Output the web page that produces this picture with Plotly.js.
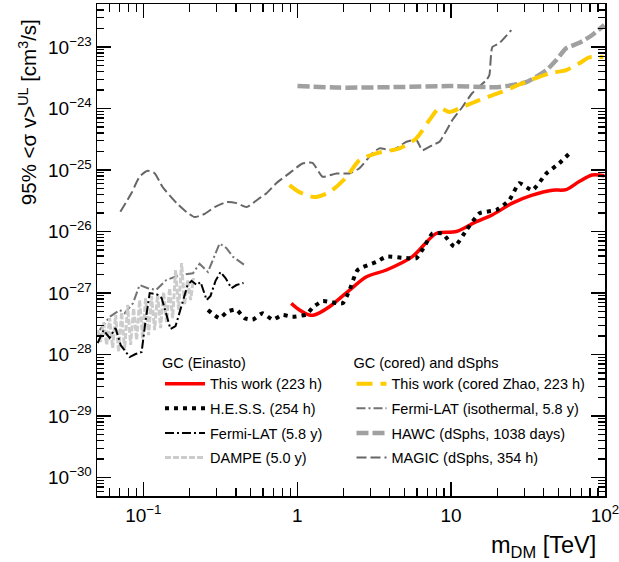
<!DOCTYPE html>
<html>
<head>
<meta charset="utf-8">
<script src="https://cdn.plot.ly/plotly-3.0.1.min.js"></script>
<style>html,body{margin:0;padding:0;background:#fff;}#chart{width:619px;height:562px;}</style>
</head>
<body>
<div id="chart"></div>
<script>
// ---- Data ----
// GC (Einasto)
const thisWorkX = [0.914, 1.035, 1.2, 1.29, 1.62, 2.19, 2.82, 3.8, 5.6, 8.0, 10.8, 14.6, 18.5, 25, 33.7, 45.5, 56, 68, 82.6, 99];
const thisWorkY = [6.8e-28, 5.3e-28, 4.4e-28, 4.4e-28, 6.0e-28, 1.12e-27, 1.84e-27, 2.37e-27, 3.9e-27, 9.3e-27, 1.0e-26, 1.45e-26, 1.86e-26, 2.9e-26, 3.9e-26, 4.7e-26, 4.8e-26, 6.5e-26, 8.3e-26, 8.1e-26];

const hessX = [0.263, 0.313, 0.352, 0.402, 0.455, 0.513, 0.596, 0.692, 0.803, 0.932, 1.15, 1.26, 1.46, 1.97, 2.19, 2.47, 3.27, 3.8, 5.13, 5.95, 6.7, 7.56, 8.8, 10.5, 12.6, 15.3, 19.7, 23.9, 27.8, 33.7, 41.6, 50.5, 60.4];
const hessY = [5.3e-28, 3.9e-28, 5.0e-28, 5.4e-28, 3.9e-28, 3.7e-28, 4.7e-28, 3.7e-28, 4.4e-28, 4.1e-28, 4.5e-28, 5.8e-28, 7.4e-28, 6.8e-28, 1.12e-27, 2.37e-27, 3.2e-27, 3.9e-27, 3.7e-27, 3.7e-27, 5.7e-27, 9.3e-27, 9.3e-27, 5.7e-27, 1.06e-26, 1.98e-26, 2.24e-26, 3.25e-26, 6.1e-26, 4.7e-26, 8.8e-26, 1.29e-25, 2.0e-25];

const fermiGcX = [0.0505, 0.0552, 0.0604, 0.066, 0.0713, 0.0815, 0.0891, 0.0975, 0.1035, 0.110, 0.122, 0.1315, 0.1416, 0.150, 0.162, 0.175, 0.194, 0.206, 0.222, 0.2355, 0.258, 0.2735, 0.2945, 0.3177, 0.342, 0.374, 0.403, 0.448];
const fermiGcY = [1.54e-28, 2.5e-28, 1.86e-28, 2.7e-28, 1.42e-28, 9.1e-29, 1.02e-28, 1.1e-28, 3.6e-28, 1.0e-27, 9.6e-28, 8.3e-28, 4.4e-28, 2.6e-28, 2.9e-28, 5.7e-28, 1.35e-27, 1.58e-27, 1.35e-27, 1.51e-27, 7.7e-28, 9.0e-28, 1.58e-27, 2.2e-27, 1.75e-27, 1.2e-27, 1.35e-27, 1.46e-27];

const dampeX = [0.05047, 0.05281, 0.05524, 0.05777, 0.06042, 0.06319, 0.0661, 0.0691, 0.0723, 0.0756, 0.0791, 0.0827, 0.0865, 0.0905, 0.0946, 0.0990, 0.1035, 0.1082, 0.1132, 0.1184, 0.1238, 0.1295, 0.1354, 0.1416, 0.1482, 0.155, 0.162, 0.1695, 0.1773, 0.1854, 0.1939, 0.2028, 0.2121];
const dampeY = [2.5e-28, 1.6e-28, 3.37e-28, 1.43e-28, 3.9e-28, 1.28e-28, 4.4e-28, 1.1e-28, 4.9e-28, 1.18e-28, 6.4e-28, 1.43e-28, 5.7e-28, 1.72e-28, 7.7e-28, 1.85e-28, 8.3e-28, 2.07e-28, 8.9e-28, 2.5e-28, 9.6e-28, 2.7e-28, 1.04e-27, 3.37e-28, 1.2e-27, 3.9e-28, 2.37e-27, 5.3e-28, 3.08e-27, 6.4e-28, 1.63e-27, 7.7e-28, 1.75e-27];

// GC (cored) and dSphs
const coredX = [0.891, 1.035, 1.296, 1.62, 2.09, 2.54, 3.26, 4.62, 5.93, 7.23, 8.40, 9.75, 11.84, 15.27, 21.5, 30.8, 43.5, 56.1, 68.1, 79.1, 97.5];
const coredY = [5.7e-26, 4.38e-26, 3.64e-26, 4.38e-26, 7.7e-26, 1.45e-25, 1.87e-25, 2.25e-25, 3.27e-25, 6.5e-25, 1.02e-24, 8.8e-25, 1.06e-24, 1.37e-24, 1.88e-24, 2.73e-24, 3.73e-24, 4.23e-24, 5.43e-24, 6.8e-24, 6.8e-24];

const fermiIsoX = [0.052, 0.0604, 0.0702, 0.0756, 0.0856, 0.0946, 0.107, 0.121, 0.141, 0.172, 0.21, 0.232, 0.263, 0.313, 0.346, 0.382, 0.455];
const fermiIsoY = [2.5e-28, 4.1e-28, 5.3e-28, 4.7e-28, 6.8e-28, 1.35e-27, 1.2e-27, 1.12e-27, 1.63e-27, 1.96e-27, 2.1e-27, 3.0e-27, 2.2e-27, 6.4e-27, 5.4e-27, 3.9e-27, 2.85e-27];

const hawcX = [1.004, 1.88, 4.62, 9.75, 20.6, 30.8, 41.6, 48.3, 56.1, 68.1, 82.7, 99];
const hawcY = [2.32e-24, 2.19e-24, 2.24e-24, 2.32e-24, 2.24e-24, 2.7e-24, 4.2e-24, 6.15e-24, 9.6e-24, 1.17e-23, 1.57e-23, 2.28e-23];

const magicX = [0.0709, 0.0836, 0.0946, 0.1066, 0.1184, 0.1334, 0.1645, 0.191, 0.2153, 0.25, 0.2904, 0.3475, 0.4035, 0.4686, 0.5692, 0.632, 0.7337, 0.891, 1.082, 1.257, 1.46, 1.80, 2.186, 2.54, 3.08, 3.42, 4.16, 5.13, 5.95, 6.51, 7.56, 8.40, 10.2, 11.84, 13.75, 16.95, 17.73, 18.54, 20.59, 24.64];
const magicY = [2.1e-26, 4.18e-26, 7.8e-26, 9.7e-26, 8.9e-26, 5.3e-26, 2.9e-26, 2.07e-26, 1.72e-26, 1.93e-26, 2.5e-26, 3.02e-26, 2.9e-26, 2.5e-26, 3.5e-26, 4.2e-26, 6.15e-26, 8.9e-26, 1.28e-25, 1.31e-25, 7.8e-26, 8.8e-26, 8.8e-26, 1.07e-25, 1.87e-25, 2.25e-25, 2.1e-25, 2.88e-25, 3.08e-25, 2.1e-25, 2.55e-25, 2.88e-25, 6.5e-25, 1.06e-24, 1.79e-24, 2.9e-24, 3.5e-24, 1.0e-23, 1.16e-23, 1.89e-23];

// Tick labels
const xTickVals = [0.1, 1, 10, 100];
const xTickText = ['10<sup>\u22121</sup>', '1', '10', '10<sup>2</sup>'];
const yTickVals = [1e-30, 1e-29, 1e-28, 1e-27, 1e-26, 1e-25, 1e-24, 1e-23];
const yTickText = ['10<sup>\u221230</sup>', '10<sup>\u221229</sup>', '10<sup>\u221228</sup>', '10<sup>\u221227</sup>', '10<sup>\u221226</sup>', '10<sup>\u221225</sup>', '10<sup>\u221224</sup>', '10<sup>\u221223</sup>'];

// Legend labels
const legendTitleLeft = 'GC (Einasto)';
const legendTitleRight = 'GC (cored) and dSphs';
const names = {
  thisWork: 'This work (223 h)',
  hess: 'H.E.S.S. (254 h)',
  fermiGc: 'Fermi-LAT (5.8 y)',
  dampe: 'DAMPE (5.0 y)',
  cored: 'This work (cored Zhao, 223 h)',
  fermiIso: 'Fermi-LAT (isothermal, 5.8 y)',
  hawc: 'HAWC (dSphs, 1038 days)',
  magic: 'MAGIC (dSphs, 354 h)'
};

// ---- Minor tick positions ----
function minorTicks(e0, e1) {
  const v = [];
  for (let e = e0; e <= e1; e++) for (let m = 2; m <= 9; m++) v.push(m * Math.pow(10, e));
  return v;
}

const FONT = 'Liberation Sans, Arial, Helvetica, sans-serif';

const traces = [
  {x: fermiIsoX, y: fermiIsoY, name: names.fermiIso, legend: 'legend2', legendgroup: 'g6',
   mode: 'lines', line: {color: '#737373', width: 2, dash: '9px,3px,2px,3px'}},
  {x: dampeX, y: dampeY, name: names.dampe, legend: 'legend', legendgroup: 'g4',
   mode: 'lines', line: {color: '#cccccc', width: 3, dash: '6px,2px'}},
  {x: fermiGcX, y: fermiGcY, name: names.fermiGc, legend: 'legend', legendgroup: 'g3',
   mode: 'lines', line: {color: '#000000', width: 2, dash: '9px,3px,2px,3px'}},
  {x: magicX, y: magicY, name: names.magic, legend: 'legend2', legendgroup: 'g8',
   mode: 'lines', line: {color: '#666666', width: 2, dash: '10px,4px', shape: 'spline', smoothing: 0.5}},
  {x: hawcX, y: hawcY, name: names.hawc, legend: 'legend2', legendgroup: 'g7',
   mode: 'lines', line: {color: '#a0a0a0', width: 4.5, dash: '12px,4px', shape: 'spline', smoothing: 0.6}},
  {x: coredX, y: coredY, name: names.cored, legend: 'legend2', legendgroup: 'g5',
   mode: 'lines', line: {color: '#ffcc00', width: 4, dash: '16px,8px', shape: 'spline', smoothing: 0.7}},
  {x: thisWorkX, y: thisWorkY, name: names.thisWork, legend: 'legend', legendgroup: 'g1',
   mode: 'lines', line: {color: '#ff0000', width: 3.5, shape: 'spline', smoothing: 0.8}},
  {x: hessX, y: hessY, name: names.hess, legend: 'legend', legendgroup: 'g2',
   mode: 'lines', line: {color: '#000000', width: 4, dash: '4px,5px', shape: 'spline', smoothing: 0.5}}
];

const rank = {g1: 1, g2: 2, g3: 3, g4: 4, g5: 5, g6: 6, g7: 7, g8: 8};
traces.forEach(t => { t.legendrank = rank[t.legendgroup]; t.hoverinfo = 'skip'; });

const axisCommon = {
  type: 'log', showline: true, linecolor: '#000', linewidth: 1.5, mirror: 'allticks',
  ticks: 'inside', ticklen: 14, tickwidth: 1.2, tickcolor: '#000',
  showgrid: false, zeroline: false, tickmode: 'array', ticklabeloverflow: 'allow',
  tickfont: {family: FONT, size: 19, color: '#000'}
};

const legendFont = {family: FONT, size: 14.5, color: '#000'};

const layout = {
  width: 619, height: 562,
  margin: {l: 97, r: 14, t: 4, b: 66},
  paper_bgcolor: '#fff', plot_bgcolor: '#fff',
  font: {family: FONT, color: '#000'},
  showlegend: true,
  xaxis: Object.assign({}, axisCommon, {
    range: [Math.log10(0.05), 2.0002],
    tickvals: xTickVals, ticktext: xTickText,
    ticklabelstandoff: 2,
    minor: {tickmode: 'array', tickvals: minorTicks(-2, 1), ticks: 'inside', ticklen: 8, tickwidth: 1.2, tickcolor: '#000', showgrid: false}
  }),
  yaxis: Object.assign({}, axisCommon, {
    range: [-30.3, -22.3],
    tickvals: yTickVals, ticktext: yTickText,
    minor: {tickmode: 'array', tickvals: minorTicks(-31, -23), ticks: 'inside', ticklen: 7, tickwidth: 1.2, tickcolor: '#000', showgrid: false}
  }),
  legend: {
    x: 0.124, y: 0.299, xanchor: 'left', yanchor: 'top',
    bgcolor: 'rgba(0,0,0,0)', borderwidth: 0, itemwidth: 40,
    traceorder: 'grouped', tracegroupgap: 2.8,
    font: legendFont,
    title: {text: legendTitleLeft, font: legendFont}
  },
  legend2: {
    x: 0.501, y: 0.299, xanchor: 'left', yanchor: 'top',
    bgcolor: 'rgba(0,0,0,0)', borderwidth: 0, itemwidth: 30,
    traceorder: 'grouped', tracegroupgap: 2.8,
    font: legendFont,
    title: {text: legendTitleRight, font: legendFont}
  },
  annotations: [
    {text: '95% &lt;σ v&gt;<sup>UL</sup> [cm<sup>3</sup>/s]', textangle: -90,
     xref: 'paper', yref: 'paper', x: -0.136, y: 0.780, xanchor: 'center', yanchor: 'middle',
     showarrow: false, font: {family: FONT, size: 20.5, color: '#000'}},
    {text: 'm<sub>DM</sub> [TeV]', xref: 'paper', yref: 'paper', x: 0.986, y: 0,
     xanchor: 'right', yanchor: 'middle', yshift: -50,
     showarrow: false, font: {family: FONT, size: 23.5, color: '#000'}}
  ]
};

Plotly.newPlot('chart', traces, layout, {staticPlot: true, displayModeBar: false});
</script>
</body>
</html>
